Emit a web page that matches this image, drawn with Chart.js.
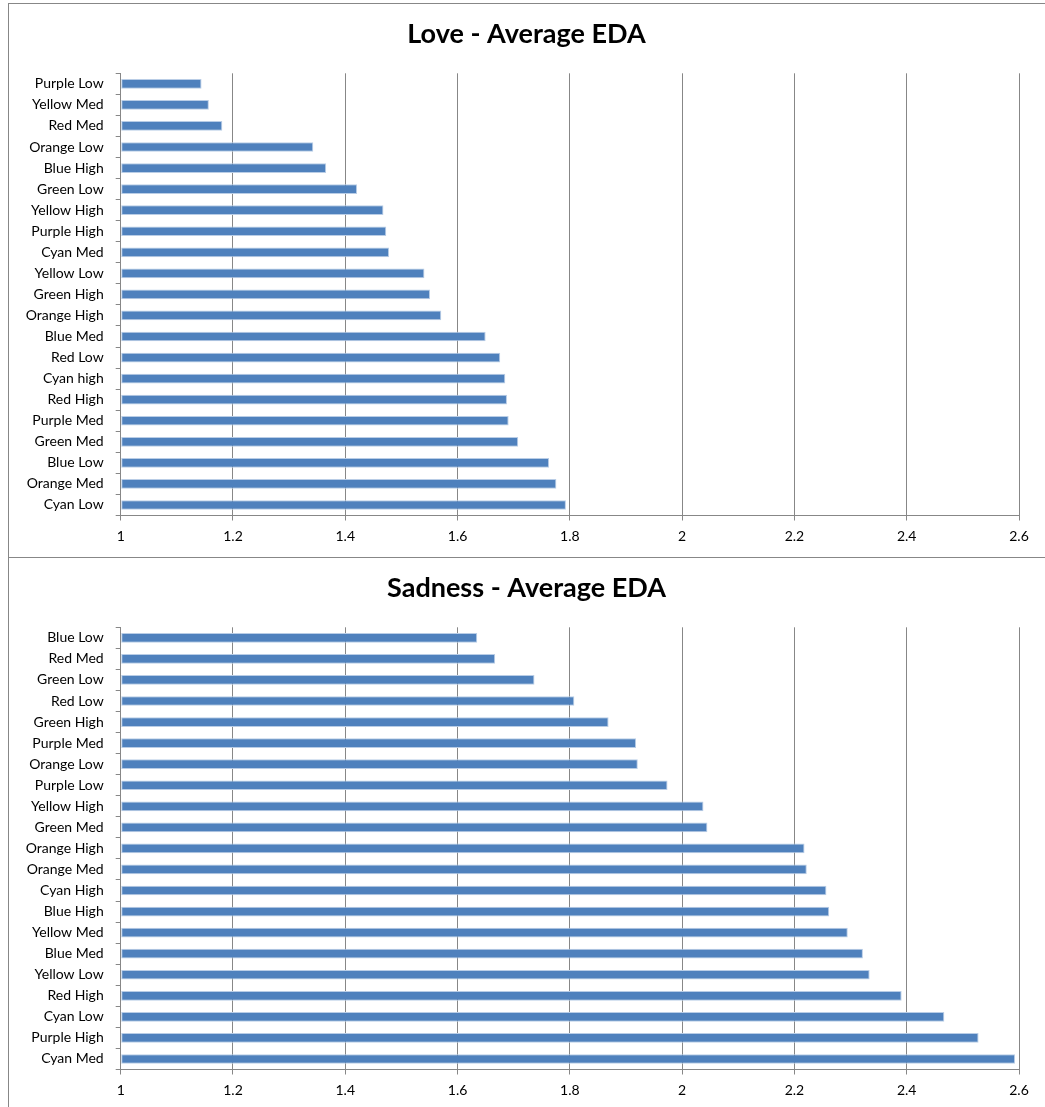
<!DOCTYPE html>
<html>
<head>
<meta charset="utf-8">
<title>Average EDA</title>
<script src="https://cdn.jsdelivr.net/npm/chart.js@4/dist/chart.umd.min.js"></script>
<style>
  html, body { margin: 0; padding: 0; background: #fff; overflow: hidden; }
  .box { position: absolute; left: 8px; width: 1100px; height: 553px; border: 1px solid #878787; }
  #box1 { top: 3px; }
  #box2 { top: 557px; }
  canvas { display: block; }
</style>
</head>
<body>
<div class="box" id="box1"><canvas id="love" width="1100" height="553"></canvas></div>
<div class="box" id="box2"><canvas id="sadness" width="1100" height="553"></canvas></div>
<script>
// Love: average EDA per colour/intensity, listed top to bottom
const loveLabels = ['Purple Low', 'Yellow Med', 'Red Med', 'Orange Low', 'Blue High', 'Green Low',
  'Yellow High', 'Purple High', 'Cyan Med', 'Yellow Low', 'Green High', 'Orange High', 'Blue Med',
  'Red Low', 'Cyan high', 'Red High', 'Purple Med', 'Green Med', 'Blue Low', 'Orange Med', 'Cyan Low'];
const loveValues = [1.144, 1.157, 1.181, 1.343, 1.366, 1.421, 1.468, 1.473, 1.478, 1.541, 1.551,
  1.571, 1.650, 1.676, 1.685, 1.688, 1.691, 1.708, 1.763, 1.776, 1.793];

// Sadness: average EDA per colour/intensity, listed top to bottom
const sadnessLabels = ['Blue Low', 'Red Med', 'Green Low', 'Red Low', 'Green High', 'Purple Med',
  'Orange Low', 'Purple Low', 'Yellow High', 'Green Med', 'Orange High', 'Orange Med', 'Cyan High',
  'Blue High', 'Yellow Med', 'Blue Med', 'Yellow Low', 'Red High', 'Cyan Low', 'Purple High', 'Cyan Med'];
const sadnessValues = [1.635, 1.667, 1.737, 1.808, 1.869, 1.918, 1.921, 1.974, 2.038, 2.045, 2.218,
  2.222, 2.257, 2.262, 2.295, 2.322, 2.334, 2.391, 2.467, 2.528, 2.593];

// Value axis range and step
const axisMin = 1;
const axisMax = 2.6;
const axisStep = 0.2;

const FONT = 'Lato, "Noto Sans", sans-serif';
const GRID = '#878787';
const TEXT = '#000';

// Chart heading, centred over the whole frame rather than the plot area
const headingPlugin = {
  id: 'heading',
  afterDraw(chart, args, opts) {
    const ctx = chart.ctx;
    ctx.save();
    ctx.font = 'bold 27px ' + FONT;
    ctx.fillStyle = '#000';
    ctx.textAlign = 'center';
    ctx.textBaseline = 'middle';
    ctx.fillText(opts.text, opts.x, opts.y);
    ctx.restore();
  }
};

function makeChart(id, title, labels, values) {
  return new Chart(document.getElementById(id), {
    type: 'bar',
    plugins: [headingPlugin],
    data: {
      labels: labels,
      datasets: [{
        data: values,
        base: axisMin,
        backgroundColor: '#4f81bd',
        borderColor: '#b9cde6',
        borderWidth: 1,
        borderSkipped: false,
        barPercentage: 0.46,
        categoryPercentage: 1
      }]
    },
    options: {
      indexAxis: 'y',
      responsive: false,
      animation: false,
      devicePixelRatio: 1,
      layout: { padding: { left: 0, right: 90, top: 69.3, bottom: 0 } },
      plugins: {
        legend: { display: false },
        tooltip: { enabled: false },
        title: { display: false },
        heading: { text: title, x: 517.5, y: 30.5 }
      },
      scales: {
        x: {
          type: 'linear',
          min: axisMin,
          max: axisMax,
          ticks: {
            stepSize: axisStep,
            color: TEXT,
            font: { family: FONT, size: 14 },
            padding: 8,
            maxRotation: 0,
            callback: v => String(+v.toFixed(1))
          },
          grid: { color: GRID, lineWidth: 1, drawTicks: true, tickLength: 5, tickColor: GRID },
          border: { display: true, color: GRID, width: 1 },
          afterFit: s => { s.height = 41.5; }
        },
        y: {
          type: 'category',
          offset: true,
          ticks: {
            color: TEXT,
            font: { family: FONT, size: 14 },
            padding: 12,
            autoSkip: false
          },
          grid: { offset: true, drawOnChartArea: false, drawTicks: true, tickLength: 5, tickColor: GRID, color: GRID },
          border: { display: true, color: GRID, width: 1 },
          afterFit: s => { s.width = 111.7; }
        }
      }
    }
  });
}

makeChart('love', 'Love - Average EDA', loveLabels, loveValues);
makeChart('sadness', 'Sadness - Average EDA', sadnessLabels, sadnessValues);
</script>
</body>
</html>
